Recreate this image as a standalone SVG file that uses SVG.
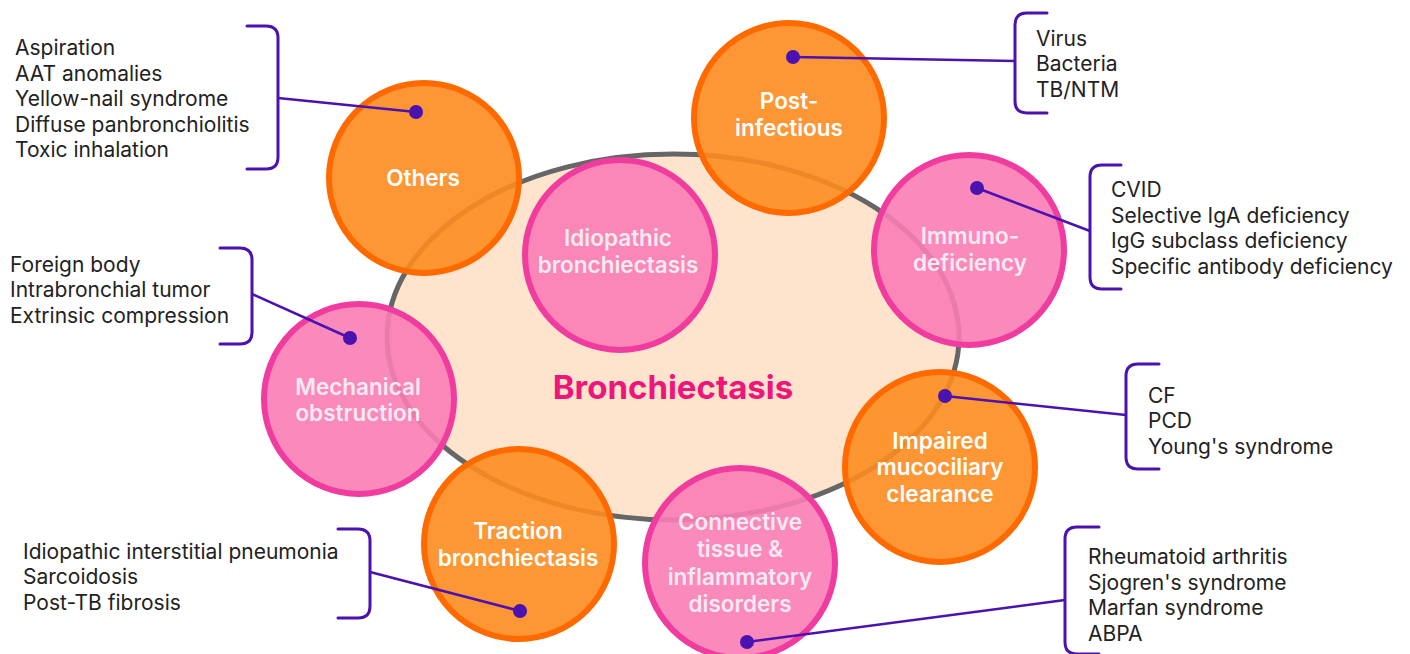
<svg xmlns="http://www.w3.org/2000/svg" width="1410" height="654" viewBox="0 0 1410 654">
<style>
.list{font-family:Inter,"Noto Sans",sans-serif;font-size:21px;fill:#222}
.lbl{font-family:Inter,"Noto Sans",sans-serif;font-size:22.5px;font-weight:600;fill:#fff;text-anchor:middle}
.pk .lbl{fill:#f6eaf2}
.or circle{fill:#fd8c1f;fill-opacity:0.9;stroke:#ff6a00;stroke-width:6}
.pk circle{fill:#f97cb5;fill-opacity:0.9;stroke:#f03c9e;stroke-width:6}
.br{fill:none;stroke:#4a12ae;stroke-width:3;stroke-linecap:round}
.cn{fill:none;stroke:#4a12ae;stroke-width:2.5}
.dot{fill:#4a12ae}
</style>
<rect width="1410" height="654" fill="#fff"/>
<g id="center">
<ellipse cx="673" cy="337" rx="286" ry="183" fill="#fee4cc" stroke="#666" stroke-width="5"/>
<text x="673" y="399" font-family="Inter,'Noto Sans',sans-serif" font-size="33" font-weight="700" fill="#f0157a" text-anchor="middle">Bronchiectasis</text>
</g>
<g id="others" class="or"><circle cx="424" cy="178" r="95"/><text class="lbl" x="423" y="186">Others</text></g>
<g id="post-infectious" class="or"><circle cx="789" cy="118" r="95"/><text class="lbl" x="789" y="109">Post-</text><text class="lbl" x="789" y="136">infectious</text></g>
<g id="idiopathic" class="pk"><circle cx="620" cy="255" r="95"/><text class="lbl" x="618" y="246">Idiopathic</text><text class="lbl" x="618" y="273">bronchiectasis</text></g>
<g id="immunodeficiency" class="pk"><circle cx="969" cy="250" r="95"/><text class="lbl" x="970" y="244">Immuno-</text><text class="lbl" x="970" y="271">deficiency</text></g>
<g id="mechanical" class="pk"><circle cx="359" cy="399" r="95"/><text class="lbl" x="358" y="395">Mechanical</text><text class="lbl" x="358" y="421">obstruction</text></g>
<g id="impaired" class="or"><circle cx="940" cy="467" r="95"/><text class="lbl" x="940" y="449">Impaired</text><text class="lbl" x="940" y="475">mucociliary</text><text class="lbl" x="940" y="502">clearance</text></g>
<g id="traction" class="or"><circle cx="519" cy="544" r="95"/><text class="lbl" x="518" y="539">Traction</text><text class="lbl" x="518" y="566">bronchiectasis</text></g>
<g id="connective" class="pk"><circle cx="740" cy="563" r="95"/><text class="lbl" x="740" y="530">Connective</text><text class="lbl" x="740" y="557">tissue &amp;</text><text class="lbl" x="740" y="585">inflammatory</text><text class="lbl" x="740" y="612">disorders</text></g>
<g id="connectors">
<path class="br" d="M247 26 H266 Q278 26 278 38 V157 Q278 169 266 169 H247"/>
<line class="cn" x1="278" y1="98" x2="416" y2="112"/><circle class="dot" cx="416" cy="112" r="7"/>
<path class="br" d="M1047 13 H1027 Q1015 13 1015 25 V101 Q1015 113 1027 113 H1047"/>
<line class="cn" x1="1015" y1="61" x2="793" y2="57"/><circle class="dot" cx="793" cy="57" r="7"/>
<path class="br" d="M1121 165 H1102 Q1090 165 1090 177 V277 Q1090 289 1102 289 H1121"/>
<line class="cn" x1="1090" y1="231" x2="977" y2="188"/><circle class="dot" cx="977" cy="188" r="7"/>
<path class="br" d="M220 248 H240 Q252 248 252 260 V332 Q252 344 240 344 H220"/>
<line class="cn" x1="252" y1="294" x2="350" y2="338"/><circle class="dot" cx="350" cy="338" r="7"/>
<path class="br" d="M1159 364 H1138 Q1126 364 1126 376 V457 Q1126 469 1138 469 H1159"/>
<line class="cn" x1="1126" y1="415" x2="945" y2="396"/><circle class="dot" cx="945" cy="396" r="7"/>
<path class="br" d="M338 529 H358 Q370 529 370 541 V606 Q370 618 358 618 H338"/>
<line class="cn" x1="370" y1="572" x2="520" y2="611"/><circle class="dot" cx="520" cy="611" r="7"/>
<path class="br" d="M1099 527 H1077 Q1065 527 1065 539 V642 Q1065 654 1077 654 H1099"/>
<line class="cn" x1="1065" y1="600" x2="747" y2="642"/><circle class="dot" cx="747" cy="642" r="7"/>
</g>
<g id="lists" class="list">
<text x="15" y="55">Aspiration</text><text x="15" y="80.5">AAT anomalies</text><text x="15" y="106">Yellow-nail syndrome</text><text x="15" y="131.5">Diffuse panbronchiolitis</text><text x="15" y="157">Toxic inhalation</text>
<text x="1036" y="46">Virus</text><text x="1036" y="71">Bacteria</text><text x="1036" y="97">TB/NTM</text>
<text x="1111" y="197">CVID</text><text x="1111" y="223">Selective IgA deficiency</text><text x="1111" y="248">IgG subclass deficiency</text><text x="1111" y="274">Specific antibody deficiency</text>
<text x="10" y="272">Foreign body</text><text x="10" y="297">Intrabronchial tumor</text><text x="10" y="323">Extrinsic compression</text>
<text x="1148" y="403">CF</text><text x="1148" y="428">PCD</text><text x="1148" y="454">Young's syndrome</text>
<text x="1088" y="564">Rheumatoid arthritis</text><text x="1088" y="590">Sjogren's syndrome</text><text x="1088" y="615">Marfan syndrome</text><text x="1088" y="641">ABPA</text>
<text x="23" y="559">Idiopathic interstitial pneumonia</text><text x="23" y="584">Sarcoidosis</text><text x="23" y="610">Post-TB fibrosis</text>
</g>
</svg>
